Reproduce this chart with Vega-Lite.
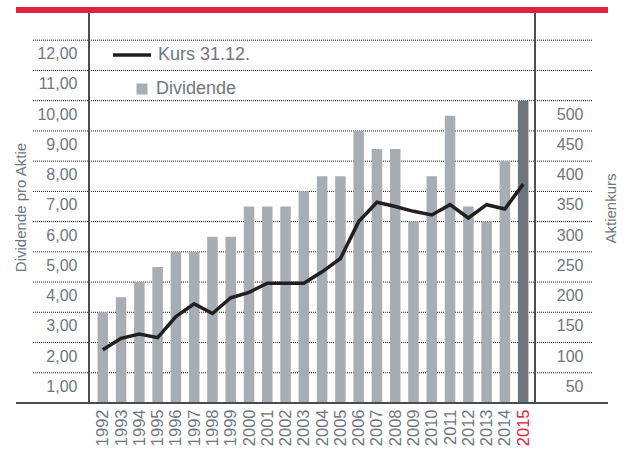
{
  "$schema": "https://vega.github.io/schema/vega-lite/v6.json",
  "width": 559,
  "height": 393,
  "autosize": {"type": "none"},
  "padding": {"left": 33, "top": 10, "right": 33, "bottom": 49},
  "background": "white",
  "config": {
    "view": {"stroke": null},
    "font": "Liberation Sans",
    "axis": {
      "labelFont": "Liberation Sans",
      "labelColor": "#6f777d",
      "titleFont": "Liberation Sans",
      "titleFontWeight": "normal",
      "titleColor": "#6f777d",
      "domain": false,
      "ticks": false,
      "grid": false
    }
  },
  "data": {
    "values": [
      {"year": 1992, "dividende": 3.0, "kurs": 88},
      {"year": 1993, "dividende": 3.5, "kurs": 107},
      {"year": 1994, "dividende": 4.0, "kurs": 114},
      {"year": 1995, "dividende": 4.5, "kurs": 108},
      {"year": 1996, "dividende": 5.0, "kurs": 143},
      {"year": 1997, "dividende": 5.0, "kurs": 164},
      {"year": 1998, "dividende": 5.5, "kurs": 148},
      {"year": 1999, "dividende": 5.5, "kurs": 174},
      {"year": 2000, "dividende": 6.5, "kurs": 183},
      {"year": 2001, "dividende": 6.5, "kurs": 198},
      {"year": 2002, "dividende": 6.5, "kurs": 198},
      {"year": 2003, "dividende": 7.0, "kurs": 198},
      {"year": 2004, "dividende": 7.5, "kurs": 217},
      {"year": 2005, "dividende": 7.5, "kurs": 239},
      {"year": 2006, "dividende": 9.0, "kurs": 300},
      {"year": 2007, "dividende": 8.4, "kurs": 332},
      {"year": 2008, "dividende": 8.4, "kurs": 325},
      {"year": 2009, "dividende": 6.0, "kurs": 317},
      {"year": 2010, "dividende": 7.5, "kurs": 311},
      {"year": 2011, "dividende": 9.5, "kurs": 328},
      {"year": 2012, "dividende": 6.5, "kurs": 306},
      {"year": 2013, "dividende": 6.0, "kurs": 328},
      {"year": 2014, "dividende": 8.0, "kurs": 321},
      {"year": 2015, "dividende": 10.0, "kurs": 362}
    ]
  },
  "layer": [
    {
      "data": {"values": [{"g": 1}, {"g": 2}, {"g": 3}, {"g": 4}, {"g": 5}, {"g": 6}, {"g": 7}, {"g": 8}, {"g": 9}, {"g": 10}, {"g": 11}, {"g": 12}]},
      "mark": {"type": "rule", "color": "#1e1e1e", "strokeWidth": 1, "strokeDash": [1, 1]},
      "encoding": {
        "y": {"field": "g", "type": "quantitative", "scale": {"domain": [0, 13], "nice": false}, "axis": null}
      }
    },
    {
      "mark": {"type": "bar", "width": 10.5},
      "encoding": {
        "x": {
          "field": "year", "type": "quantitative",
          "scale": {"domain": [1988.454, 2018.493], "nice": false, "zero": false},
          "axis": {"title": null, "values": [1992,1993,1994,1995,1996,1997,1998,1999,2000,2001,2002,2003,2004,2005,2006,2007,2008,2009,2010,2011,2012,2013,2014,2015], "format": "d", "labelAngle": 270, "labelAlign": "right", "labelBaseline": "middle", "labelPadding": 6, "labelFontSize": 16.5, "labelColor": {"condition": {"test": "datum.value === 2015", "value": "#e2213e"}, "value": "#6f777d"}, "labelOverlap": false, "labelFlush": false, "labelBound": false, "grid": false, "domain": false, "ticks": false}
        },
        "y": {
          "field": "dividende", "type": "quantitative",
          "scale": {"domain": [0, 13], "nice": false},
          "axis": {
            "orient": "left",
            "title": "Dividende pro Aktie",
            "values": [1,2,3,4,5,6,7,8,9,10,11,12],
            "labelExpr": "replace(format(datum.value, '.2f'), '.', ',')",
            "grid": false,
            "labelPadding": -44,
            "labelAlign": "right",
            "labelBaseline": "top",
            "labelOffset": 5.5,
            "labelFontSize": 16,
            "labelOverlap": false,
            "titleFontSize": 15,
            "titleAngle": 270,
            "titleAlign": "center",
            "titleBaseline": "alphabetic",
            "titleX": -8,
            "titleY": 197
          }
        },
        "fill": {
          "condition": {"test": "datum.year == 2015", "value": "#6b757b"},
          "datum": "Dividende",
          "scale": {"range": ["#a7adb2"]},
          "legend": {
            "orient": "none", "legendX": 100, "legendY": 70, "title": null, "padding": 0,
            "symbolType": "square", "symbolSize": 121, "symbolStrokeWidth": 0,
            "labelFont": "Liberation Sans", "labelFontSize": 18, "labelColor": "#6f777d", "labelOffset": 5
          }
        }
      }
    },
    {
      "mark": {"type": "rule", "color": "#4d4d4d", "strokeWidth": 1.2},
      "encoding": {
        "x": {"datum": 1991.248, "type": "quantitative",
          "axis": {"title": null, "values": [1992,1993,1994,1995,1996,1997,1998,1999,2000,2001,2002,2003,2004,2005,2006,2007,2008,2009,2010,2011,2012,2013,2014,2015], "format": "d", "labelAngle": 270, "labelAlign": "right", "labelBaseline": "middle", "labelPadding": 6, "labelFontSize": 16.5, "labelColor": {"condition": {"test": "datum.value === 2015", "value": "#e2213e"}, "value": "#6f777d"}, "labelOverlap": false, "labelFlush": false, "labelBound": false, "grid": false, "domain": false, "ticks": false}}
      }
    },
    {
      "mark": {"type": "rule", "color": "#4d4d4d", "strokeWidth": 1.2},
      "encoding": {
        "x": {"datum": 2015.645, "type": "quantitative",
          "axis": {"title": null, "values": [1992,1993,1994,1995,1996,1997,1998,1999,2000,2001,2002,2003,2004,2005,2006,2007,2008,2009,2010,2011,2012,2013,2014,2015], "format": "d", "labelAngle": 270, "labelAlign": "right", "labelBaseline": "middle", "labelPadding": 6, "labelFontSize": 16.5, "labelColor": {"condition": {"test": "datum.value === 2015", "value": "#e2213e"}, "value": "#6f777d"}, "labelOverlap": false, "labelFlush": false, "labelBound": false, "grid": false, "domain": false, "ticks": false}}
      }
    },
    {
      "mark": {"type": "rule", "color": "#4d4d4d", "strokeWidth": 1.5},
      "encoding": {
        "x": {"datum": 1987.27, "type": "quantitative",
          "axis": {"title": null, "values": [1992,1993,1994,1995,1996,1997,1998,1999,2000,2001,2002,2003,2004,2005,2006,2007,2008,2009,2010,2011,2012,2013,2014,2015], "format": "d", "labelAngle": 270, "labelAlign": "right", "labelBaseline": "middle", "labelPadding": 6, "labelFontSize": 16.5, "labelColor": {"condition": {"test": "datum.value === 2015", "value": "#e2213e"}, "value": "#6f777d"}, "labelOverlap": false, "labelFlush": false, "labelBound": false, "grid": false, "domain": false, "ticks": false}},
        "x2": {"datum": 2019.62},
        "y": {"datum": 0, "type": "quantitative", "scale": {"domain": [0, 13], "nice": false}, "axis": null}
      }
    },
    {
      "mark": {"type": "rule", "color": "#e2213e", "strokeWidth": 6},
      "encoding": {
        "x": {"datum": 1987.27, "type": "quantitative",
          "axis": {"title": null, "values": [1992,1993,1994,1995,1996,1997,1998,1999,2000,2001,2002,2003,2004,2005,2006,2007,2008,2009,2010,2011,2012,2013,2014,2015], "format": "d", "labelAngle": 270, "labelAlign": "right", "labelBaseline": "middle", "labelPadding": 6, "labelFontSize": 16.5, "labelColor": {"condition": {"test": "datum.value === 2015", "value": "#e2213e"}, "value": "#6f777d"}, "labelOverlap": false, "labelFlush": false, "labelBound": false, "grid": false, "domain": false, "ticks": false}},
        "x2": {"datum": 2019.62},
        "y": {"datum": 13, "type": "quantitative", "scale": {"domain": [0, 13], "nice": false}, "axis": null}
      }
    },
    {
      "mark": {"type": "line", "color": "#231f20", "strokeWidth": 3.5, "strokeJoin": "miter"},
      "encoding": {
        "x": {"field": "year", "type": "quantitative",
          "axis": {"title": null, "values": [1992,1993,1994,1995,1996,1997,1998,1999,2000,2001,2002,2003,2004,2005,2006,2007,2008,2009,2010,2011,2012,2013,2014,2015], "format": "d", "labelAngle": 270, "labelAlign": "right", "labelBaseline": "middle", "labelPadding": 6, "labelFontSize": 16.5, "labelColor": {"condition": {"test": "datum.value === 2015", "value": "#e2213e"}, "value": "#6f777d"}, "labelOverlap": false, "labelFlush": false, "labelBound": false, "grid": false, "domain": false, "ticks": false}},
        "y": {
          "field": "kurs", "type": "quantitative",
          "scale": {"domain": [0, 650], "nice": false},
          "axis": {
            "orient": "right",
            "title": "Aktienkurs",
            "values": [50,100,150,200,250,300,350,400,450,500],
            "grid": false,
            "labelPadding": -9,
            "labelAlign": "right",
            "labelBaseline": "top",
            "labelOffset": 5.5,
            "labelFontSize": 16,
            "labelOverlap": false,
            "titleFontSize": 15,
            "titleAngle": 270,
            "titleAlign": "center",
            "titleBaseline": "alphabetic",
            "titleX": 23,
            "titleY": 198
          }
        },
        "stroke": {
          "datum": "Kurs 31.12.",
          "scale": {"range": ["#231f20"]},
          "legend": {
            "orient": "none", "legendX": 78, "legendY": 24, "title": null, "padding": 0,
            "symbolType": "stroke", "symbolSize": 1444, "symbolStrokeWidth": 3.5,
            "labelFont": "Liberation Sans", "labelFontSize": 18, "labelColor": "#6f777d", "labelOffset": 5
          }
        }
      }
    }
  ],
  "resolve": {"scale": {"y": "independent"}}
}
